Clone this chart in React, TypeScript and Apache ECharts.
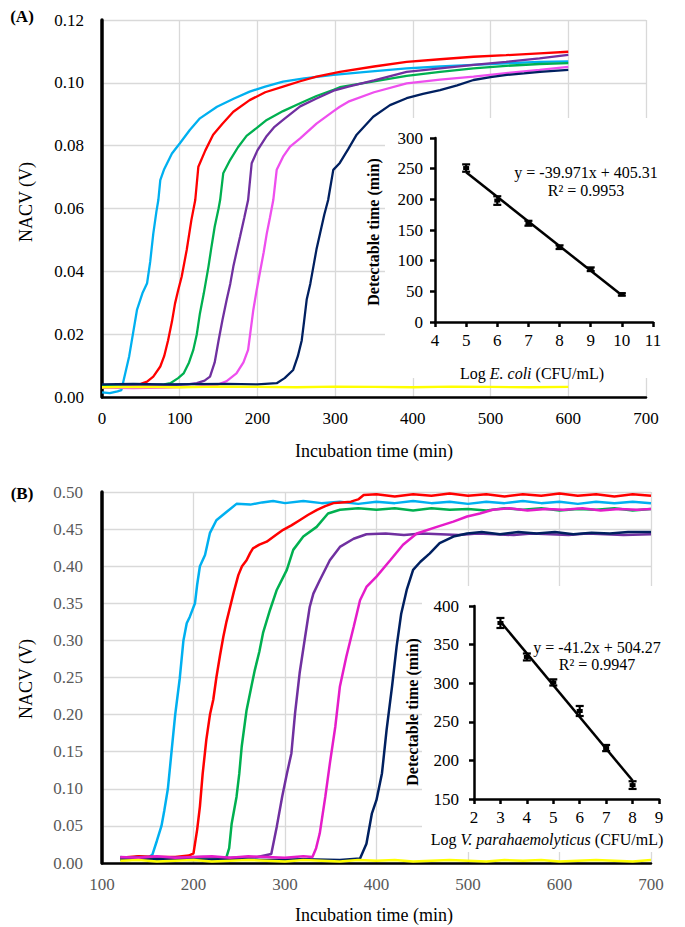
import React, { useEffect, useRef } from "react";
import * as echarts from "echarts";

type P = [number, number];

const FONT = "'Liberation Serif','Times New Roman',serif";

// ---------- Panel A : E. coli (NACV vs incubation time) ----------
const aCyan: P[] = [[0,0.0015],[10,0.0012],[20,0.0018],[25,0.0022],[28,0.0055],[35,0.013],[45,0.0277],[52,0.033],[58,0.0362],[62,0.043],[66,0.052],[70,0.059],[72.5,0.0627],[75,0.069],[80,0.0725],[90,0.0775],[100,0.0807],[113,0.085],[126,0.0887],[148,0.0924],[170,0.095],[190,0.0972],[210,0.0988],[233,0.1004],[260,0.1014],[298,0.1025],[340,0.1035],[392,0.1046],[435,0.1052],[478,0.1057],[520,0.1062],[563,0.1067],[600,0.1068]];
const aRed: P[] = [[0,0.0035],[20,0.0037],[40,0.0038],[50,0.0042],[58,0.0049],[66,0.0065],[75,0.0097],[80,0.013],[85,0.018],[90,0.024],[94,0.0298],[98,0.034],[102.5,0.0383],[109,0.0468],[115,0.0563],[120,0.0627],[124,0.0733],[133,0.0785],[143,0.0835],[155,0.087],[169,0.0908],[190,0.0945],[210,0.097],[233,0.0988],[255,0.1005],[276,0.102],[306,0.1035],[350,0.1052],[392,0.1067],[435,0.1075],[478,0.1083],[520,0.1088],[563,0.1094],[600,0.1099]];
const aGreen: P[] = [[0,0.0035],[30,0.0036],[60,0.0038],[80,0.004],[88,0.0044],[98,0.006],[105,0.0075],[112,0.011],[117.5,0.015],[122,0.02],[126,0.0266],[131,0.033],[137,0.0415],[141,0.048],[145,0.0542],[150,0.06],[152,0.0627],[156,0.0712],[165,0.0755],[175,0.0795],[186,0.0831],[200,0.0858],[212,0.0882],[233,0.091],[255,0.0935],[276,0.0958],[298,0.0978],[306,0.0986],[350,0.1005],[392,0.1022],[435,0.1035],[478,0.1046],[520,0.1054],[563,0.106],[600,0.1063]];
const aPurple: P[] = [[0,0.003],[40,0.0035],[80,0.0037],[110,0.004],[122,0.0044],[132,0.0052],[139,0.0065],[145,0.011],[150,0.018],[155,0.0245],[160.5,0.031],[165,0.036],[169,0.0415],[173,0.046],[177.6,0.051],[183,0.057],[188,0.0627],[192.6,0.0744],[200,0.0785],[212,0.0831],[222,0.086],[233,0.0882],[255,0.0925],[276,0.095],[298,0.0975],[317,0.0988],[350,0.1008],[392,0.1035],[435,0.1046],[478,0.1057],[520,0.1067],[563,0.1078],[600,0.1089]];
const aMagenta: P[] = [[0,0.003],[40,0.0028],[80,0.003],[120,0.0033],[147.6,0.0038],[160,0.005],[173,0.0075],[182,0.011],[188,0.015],[194.7,0.0277],[199,0.034],[203,0.0394],[208,0.046],[212,0.052],[216,0.057],[220.4,0.0627],[224.8,0.0723],[233,0.0765],[242,0.0797],[255,0.0823],[276,0.087],[298,0.091],[306,0.0924],[317,0.094],[350,0.097],[392,0.0998],[435,0.101],[478,0.102],[520,0.1031],[563,0.1041],[600,0.1051]];
const aNavy: P[] = [[0,0.004],[40,0.0042],[80,0.004],[120,0.0041],[160,0.0042],[200,0.004],[224.8,0.0044],[235,0.006],[246,0.0086],[252,0.013],[257,0.018],[260,0.024],[263.4,0.031],[268,0.036],[272,0.0415],[276,0.047],[280.5,0.052],[286,0.058],[291,0.0627],[297.6,0.0723],[306,0.0745],[317,0.079],[327.7,0.0835],[349,0.0892],[370.6,0.0929],[392,0.0951],[413,0.0965],[435,0.0977],[457,0.0992],[478,0.1009],[500,0.1018],[521,0.1025],[543,0.103],[563.6,0.1035],[600,0.1041]];
const aYellow: P[] = [[0,0.0031],[50,0.0032],[100,0.0031],[150,0.0033],[200,0.0032],[250,0.0031],[300,0.0033],[350,0.0032],[400,0.0031],[450,0.0033],[500,0.0032],[550,0.0031],[600,0.0032]];

// Panel A inset: detectable time vs log E. coli
const aInsetLog = [5, 6, 7, 8, 9, 10];
const aInsetTime = [251, 198, 161, 122, 86, 45];
const aInsetErr = [6, 7, 4, 3, 3, 2];

// ---------- Panel B : V. parahaemolyticus ----------
const bCyan: P[] = [[120,0.008],[130,0.006],[140,0.009],[150,0.007],[155,0.011],[160,0.03],[165,0.05],[168,0.07],[172,0.1],[176,0.15],[180,0.2],[185,0.249],[189,0.3],[192.6,0.323],[196,0.332],[201.6,0.35],[204,0.375],[207,0.4],[212.6,0.415],[218,0.445],[225,0.462],[236,0.473],[247,0.484],[262,0.483],[275,0.486],[287,0.488],[300,0.485],[320,0.488],[340,0.485],[360,0.487],[380,0.484],[400,0.487],[420,0.485],[440,0.488],[460,0.485],[480,0.487],[500,0.484],[520,0.487],[540,0.485],[560,0.488],[580,0.485],[600,0.487],[620,0.484],[640,0.487],[660,0.485],[680,0.487],[700,0.485]];
const bRed: P[] = [[120,0.007],[140,0.009],[160,0.008],[180,0.008],[195,0.01],[200,0.013],[204,0.045],[207,0.076],[210,0.12],[214,0.166],[218,0.2],[221.6,0.22],[225,0.25],[229,0.28],[232.6,0.305],[236,0.325],[240,0.345],[244,0.365],[249,0.388],[253,0.4],[258,0.408],[262,0.418],[265,0.424],[272,0.429],[280,0.433],[290,0.442],[298,0.449],[307,0.455],[316,0.462],[325,0.469],[335,0.476],[344,0.481],[353,0.485],[362,0.486],[372,0.487],[380,0.49],[386,0.496],[400,0.497],[420,0.494],[440,0.497],[460,0.495],[480,0.498],[500,0.495],[520,0.497],[540,0.494],[560,0.497],[580,0.495],[600,0.498],[620,0.495],[640,0.497],[660,0.494],[680,0.497],[700,0.495]];
const bGreen: P[] = [[120,0.005],[140,0.006],[160,0.005],[180,0.006],[200,0.005],[220,0.006],[236,0.008],[239,0.02],[241.7,0.053],[247,0.089],[250,0.12],[252.7,0.157],[258,0.206],[263.6,0.24],[267,0.26],[272,0.285],[276,0.31],[283.6,0.341],[291,0.368],[302,0.395],[309,0.422],[320,0.44],[334.6,0.453],[347,0.471],[360,0.476],[380,0.478],[400,0.476],[420,0.478],[440,0.475],[460,0.478],[480,0.476],[500,0.477],[520,0.475],[540,0.478],[560,0.476],[580,0.478],[600,0.475],[620,0.477],[640,0.476],[660,0.478],[680,0.475],[700,0.477]];
const bPurple: P[] = [[120,0.007],[150,0.008],[180,0.007],[210,0.008],[240,0.007],[270,0.008],[285,0.012],[291,0.049],[297,0.09],[302,0.12],[307,0.148],[311,0.202],[316,0.256],[322,0.305],[327,0.345],[331,0.363],[338,0.381],[349,0.408],[360,0.426],[375,0.437],[389,0.443],[410,0.444],[430,0.442],[450,0.444],[470,0.443],[490,0.442],[510,0.444],[530,0.443],[550,0.442],[570,0.444],[590,0.443],[610,0.442],[630,0.444],[650,0.443],[670,0.442],[700,0.443]];
const bMagenta: P[] = [[120,0.008],[140,0.007],[160,0.009],[180,0.007],[200,0.008],[220,0.009],[240,0.007],[260,0.009],[280,0.008],[300,0.007],[320,0.009],[330,0.008],[334,0.02],[338,0.04],[344,0.089],[349,0.134],[355,0.184],[360,0.238],[367,0.278],[375,0.318],[382,0.354],[389,0.372],[400,0.386],[415,0.408],[429,0.429],[444,0.444],[466,0.453],[484,0.46],[499,0.467],[513,0.471],[527,0.476],[545,0.478],[565,0.475],[585,0.477],[605,0.476],[625,0.478],[645,0.475],[665,0.477],[685,0.476],[700,0.477]];
const bNavy: P[] = [[120,0.004],[160,0.005],[200,0.004],[240,0.005],[280,0.004],[320,0.005],[360,0.004],[382,0.006],[389,0.026],[395,0.067],[400,0.085],[406,0.121],[411,0.179],[417,0.238],[422,0.292],[427,0.336],[433,0.368],[440,0.395],[448,0.406],[458,0.417],[469,0.431],[484,0.44],[499,0.444],[515,0.446],[535,0.443],[555,0.446],[575,0.444],[595,0.446],[615,0.443],[635,0.445],[655,0.444],[675,0.446],[700,0.446]];
const bYellow: P[] = [[120,0.003],[140,0.004],[160,0.002],[180,0.003],[200,0.004],[220,0.002],[240,0.003],[260,0.004],[280,0.003],[300,0.002],[320,0.004],[340,0.003],[360,0.002],[380,0.004],[400,0.003],[420,0.004],[440,0.002],[460,0.003],[480,0.004],[500,0.003],[520,0.002],[540,0.004],[560,0.003],[580,0.004],[600,0.002],[620,0.003],[640,0.004],[660,0.003],[680,0.002],[700,0.004]];

// Panel B inset
const bInsetLog = [3, 4, 5, 6, 7, 8];
const bInsetTime = [378, 334, 301, 264, 216, 168];
const bInsetErr = [6.5, 4.5, 4, 6.5, 4, 5];

const C = {
  cyan: "#00B0F0",
  red: "#FF0000",
  green: "#00B050",
  purple: "#7030A0",
  magentaA: "#EE4FEE",
  magentaB: "#E51CC9",
  navy: "#002060",
  yellow: "#FFFF00",
};

function fit(xs: number[], ys: number[]): P[] {
  const n = xs.length;
  const mx = xs.reduce((s, v) => s + v, 0) / n;
  const my = ys.reduce((s, v) => s + v, 0) / n;
  let sxy = 0, sxx = 0;
  for (let i = 0; i < n; i++) { sxy += (xs[i] - mx) * (ys[i] - my); sxx += (xs[i] - mx) ** 2; }
  const b = sxy / sxx;
  const a = my - b * mx;
  return [[xs[0], a + b * xs[0]], [xs[n - 1], a + b * xs[n - 1]]];
}

const errRender = (params: any, api: any) => {
  const x = api.value(0), y = api.value(1), e = api.value(2);
  const t = api.coord([x, y + e]);
  const b = api.coord([x, y - e]);
  const c = api.coord([x, y]);
  const st = { stroke: "#000", lineWidth: 2.2 };
  return {
    type: "group",
    children: [
      { type: "line", shape: { x1: t[0], y1: t[1], x2: b[0], y2: b[1] }, style: st },
      { type: "line", shape: { x1: t[0] - 4, y1: t[1], x2: t[0] + 4, y2: t[1] }, style: st },
      { type: "line", shape: { x1: b[0] - 4, y1: b[1], x2: b[0] + 4, y2: b[1] }, style: st },
      { type: "rect", shape: { x: c[0] - 3, y: c[1] - 2, width: 6, height: 4 }, style: { fill: "#000" } },
    ],
  };
};

const mainLine = (data: P[], color: string, xi: number, width: number) => ({
  type: "line",
  xAxisIndex: xi,
  yAxisIndex: xi,
  data,
  symbol: "none",
  showSymbol: false,
  lineStyle: { color, width },
  itemStyle: { color },
  z: 2,
});

export default function App() {
  const ref = useRef<HTMLDivElement>(null);
  useEffect(() => {
    if (!ref.current) return;
    const chart = echarts.init(ref.current, undefined, { renderer: "svg" });
    const lbl = (color: string, margin: number, fmt?: any) => ({
      color, fontSize: 17, fontFamily: FONT, margin, formatter: fmt,
    });
    const grid = { color: "#D9D9D9", width: 1.3 };
    const txt = (text: string, x: number, y: number, opts: any = {}) => ({
      type: "text", x, y, z: 20, rotation: opts.rotation || 0,
      style: {
        text, fill: "#000",
        font: `${opts.bold ? "bold " : ""}${opts.size || 17}px ${FONT}`,
        textAlign: "center", textVerticalAlign: "middle", align: "center", verticalAlign: "middle",
        rich: opts.rich,
      },
    });
    const insetAxis = (gi: number, min: number, max: number, interval: number, margin: number) => ({
      gridIndex: gi, type: "value", min, max, interval, z: 10,
      axisLine: { show: true, onZero: false, lineStyle: { color: "#000", width: 2.5 } },
      axisTick: { show: true, inside: false, length: 5, lineStyle: { color: "#000", width: 2.5 } },
      axisLabel: lbl("#000", margin),
      splitLine: { show: false },
    });
    const richLog = {
      n: { fontFamily: FONT, fontSize: 16, fill: "#000", color: "#000" },
      i: { fontFamily: FONT, fontSize: 16, fontStyle: "italic", fill: "#000", color: "#000" },
    };
    const option: any = {
      animation: false,
      grid: [
        { left: 102, top: 20, width: 544, height: 377 },
        { left: 435, top: 138, width: 218, height: 184 },
        { left: 102, top: 492, width: 549, height: 371 },
        { left: 474, top: 606, width: 185, height: 193 },
      ],
      xAxis: [
        {
          gridIndex: 0, type: "value", min: 0, max: 700, interval: 100,
          axisLine: { onZero: false, lineStyle: { color: "#000", width: 2.5 } },
          axisTick: { show: false }, axisLabel: lbl("#000", 13), splitLine: { show: true, lineStyle: grid },
        },
        insetAxis(1, 4, 11, 1, 10),
        {
          gridIndex: 2, type: "value", min: 100, max: 700, interval: 100,
          axisLine: { onZero: false, lineStyle: { color: "#000", width: 2.5 } },
          axisTick: { show: false }, axisLabel: lbl("#595959", 13), splitLine: { show: true, lineStyle: grid },
        },
        insetAxis(3, 2, 9, 1, 10),
      ],
      yAxis: [
        {
          gridIndex: 0, type: "value", min: 0, max: 0.12, interval: 0.02,
          axisLine: { show: true, onZero: false, lineStyle: { color: "#000", width: 3.5 } },
          axisTick: { show: false }, axisLabel: lbl("#000", 18, (v: number) => v.toFixed(2)),
          splitLine: { show: true, lineStyle: grid },
        },
        insetAxis(1, 0, 300, 50, 12),
        {
          gridIndex: 2, type: "value", min: 0, max: 0.5, interval: 0.05,
          axisLine: { show: true, onZero: false, lineStyle: { color: "#000", width: 3.5 } },
          axisTick: { show: false }, axisLabel: lbl("#595959", 19, (v: number) => v.toFixed(2)),
          splitLine: { show: true, lineStyle: grid },
        },
        insetAxis(3, 150, 400, 50, 15),
      ],
      series: [
        mainLine(aCyan, C.cyan, 0, 2.3),
        mainLine(aRed, C.red, 0, 2.3),
        mainLine(aGreen, C.green, 0, 2.3),
        mainLine(aPurple, C.purple, 0, 2.3),
        mainLine(aMagenta, C.magentaA, 0, 2.3),
        mainLine(aNavy, C.navy, 0, 2.3),
        mainLine(aYellow, C.yellow, 0, 2.3),
        {
          type: "line", xAxisIndex: 1, yAxisIndex: 1, data: fit(aInsetLog, aInsetTime),
          symbol: "none", lineStyle: { color: "#000", width: 2.5 }, z: 10,
        },
        {
          type: "custom", xAxisIndex: 1, yAxisIndex: 1, renderItem: errRender, z: 11, clip: false,
          data: aInsetLog.map((x, i) => [x, aInsetTime[i], aInsetErr[i]]),
          encode: { x: 0, y: 1 },
        },
        mainLine(bCyan, C.cyan, 2, 2.5),
        mainLine(bRed, C.red, 2, 2.5),
        mainLine(bGreen, C.green, 2, 2.5),
        mainLine(bPurple, C.purple, 2, 2.5),
        mainLine(bNavy, C.navy, 2, 2.5),
        mainLine(bMagenta, C.magentaB, 2, 2.5),
        mainLine(bYellow, C.yellow, 2, 2.5),
        {
          type: "line", xAxisIndex: 3, yAxisIndex: 3, data: fit(bInsetLog, bInsetTime),
          symbol: "none", lineStyle: { color: "#000", width: 2.5 }, z: 10,
        },
        {
          type: "custom", xAxisIndex: 3, yAxisIndex: 3, renderItem: errRender, z: 11, clip: false,
          data: bInsetLog.map((x, i) => [x, bInsetTime[i], bInsetErr[i]]),
          encode: { x: 0, y: 1 },
        },
      ],
      graphic: [
        { type: "rect", z: 5, shape: { x: 385, y: 118, width: 275, height: 260 }, style: { fill: "#fff" } },
        { type: "rect", z: 5, shape: { x: 422, y: 586, width: 263, height: 266 }, style: { fill: "#fff" } },
        txt("(A)", 22, 16, { bold: true }),
        txt("(B)", 22, 493, { bold: true }),
        txt("NACV (V)", 26, 202, { rotation: Math.PI / 2, size: 18 }),
        txt("NACV (V)", 26, 679, { rotation: Math.PI / 2, size: 18 }),
        txt("Incubation time (min)", 374, 451, { size: 18 }),
        txt("Incubation time (min)", 374, 915, { size: 18 }),
        txt("Detectable time (min)", 373, 232, { rotation: Math.PI / 2, bold: true, size: 16 }),
        txt("Detectable time (min)", 412, 712, { rotation: Math.PI / 2, bold: true, size: 16 }),
        txt("{n|Log }{i|E. coli}{n| (CFU/mL)}", 532, 373, { rich: richLog, size: 16 }),
        txt("{n|Log }{i|V. parahaemolyticus}{n| (CFU/mL)}", 547, 839, { rich: richLog, size: 16 }),
        txt("y = -39.971x + 405.31", 586, 172, { size: 16 }),
        txt("R² = 0.9953", 586, 190, { size: 16 }),
        txt("y = -41.2x + 504.27", 597, 647, { size: 16 }),
        txt("R² = 0.9947", 597, 664, { size: 16 }),
      ],
    };
    chart.setOption(option);
    return () => chart.dispose();
  }, []);
  return (
    <div
      ref={ref}
      style={{ position: "fixed", left: 0, top: 0, width: 685, height: 927, background: "#fff" }}
    />
  );
}
